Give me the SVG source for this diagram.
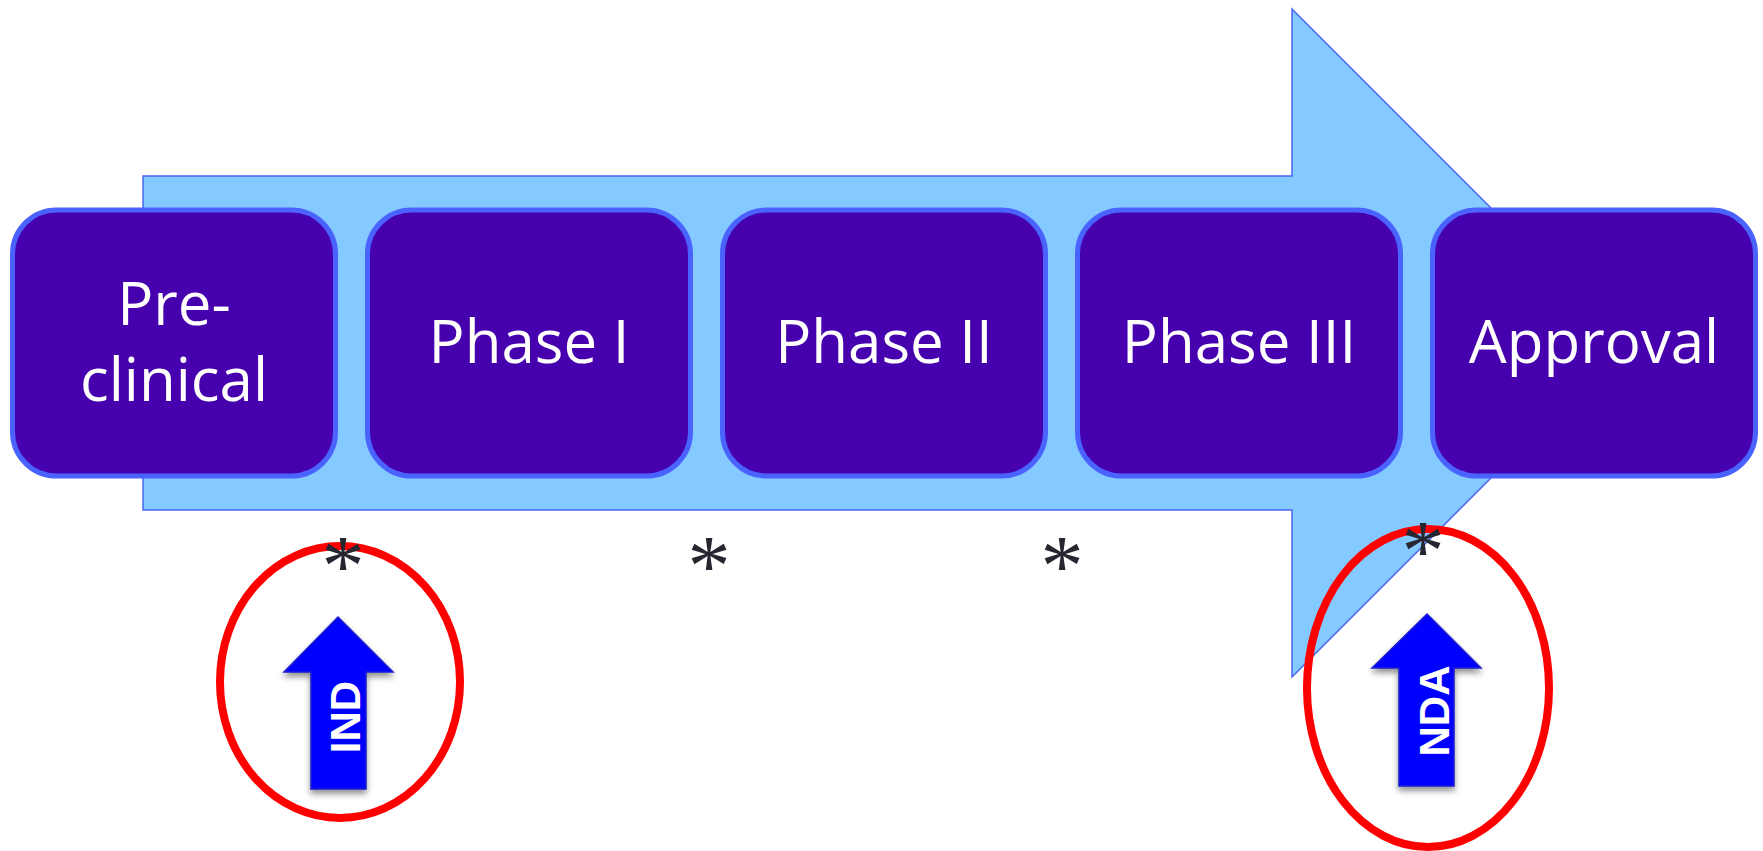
<svg xmlns="http://www.w3.org/2000/svg" width="1763" height="851" viewBox="0 0 1763 851">
<defs>
<style>
.box{fill:#4600AE;stroke:#4A63FF;stroke-width:5}
.lbl{font-family:"Open Sans","Liberation Sans",sans-serif;font-size:60px;fill:#FFFFFF;text-anchor:middle}
.ring{fill:none;stroke:#FF0000;stroke-width:8}
.up{fill:#0000FF;stroke:#1A1AD0;stroke-width:1.5;filter:url(#sh)}
.tag{font-family:"Liberation Sans",Arial,sans-serif;font-weight:bold;font-size:42px;fill:#FFFFFF;text-anchor:middle}
.ast{font-family:"Liberation Serif","Times New Roman",serif;font-size:86px;fill:#262630;text-anchor:middle}
</style>
<filter id="sh" x="-30%" y="-20%" width="160%" height="150%">
<feGaussianBlur in="SourceAlpha" stdDeviation="3"/>
<feOffset dx="0" dy="4" result="b"/>
<feComponentTransfer><feFuncA type="linear" slope="0.45"/></feComponentTransfer>
<feMerge><feMergeNode/><feMergeNode in="SourceGraphic"/></feMerge>
</filter>
</defs>
<g id="connectors">
<polygon id="process-arrow" points="143,176 1292,176 1292,9 1626,343 1292,677 1292,510 143,510" fill="#84C9FF" stroke="#4A66F0" stroke-width="1.5"/>
</g>
<g id="preclinical"><rect class="box" x="12.5" y="210" width="323" height="266" rx="44"/><text class="lbl" x="174" y="325">Pre-</text><text class="lbl" x="174" y="401">clinical</text></g>
<g id="phase1"><rect class="box" x="367.5" y="210" width="323" height="266" rx="44"/><text class="lbl" x="529" y="363">Phase I</text></g>
<g id="phase2"><rect class="box" x="722.5" y="210" width="323" height="266" rx="44"/><text class="lbl" x="884" y="363">Phase II</text></g>
<g id="phase3"><rect class="box" x="1077.5" y="210" width="323" height="266" rx="44"/><text class="lbl" x="1239" y="363">Phase III</text></g>
<g id="approval"><rect class="box" x="1432.5" y="210" width="323" height="266" rx="44"/><text class="lbl" x="1594" y="363">Approval</text></g>
<g id="ind">
<ellipse class="ring" cx="340" cy="682" rx="120" ry="136"/>
<polygon class="up" points="338,617 393,672 366,672 366,789 311,789 311,672 284,672"/>
<text class="tag" transform="translate(360,717) rotate(-90)">IND</text>
</g>
<g id="nda">
<ellipse class="ring" cx="1428" cy="688" rx="121" ry="159"/>
<polygon class="up" points="1427,614 1481,668 1454,668 1454,786 1399,786 1399,668 1372,668"/>
<text class="tag" transform="translate(1449,711) rotate(-90)">NDA</text>
</g>
<g id="markers">
<text class="ast" x="343" y="595">*</text>
<text class="ast" x="709" y="595">*</text>
<text class="ast" x="1062" y="595">*</text>
<text class="ast" x="1423" y="580">*</text>
</g>
</svg>
